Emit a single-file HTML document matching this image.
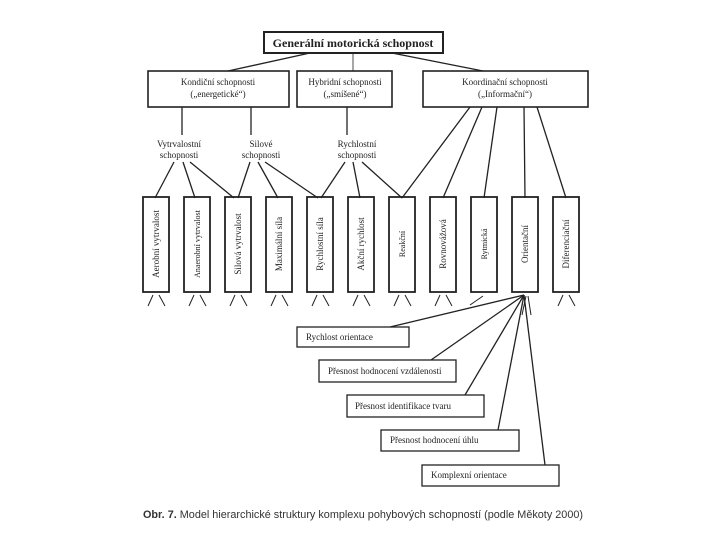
<!DOCTYPE html>
<html><head><meta charset="utf-8"><style>
html,body{margin:0;padding:0;background:#fff;}
svg{display:block;}
text{font-family:"Liberation Serif",serif;fill:#222;}
</style></head><body>
<svg width="720" height="540" viewBox="0 0 720 540" xmlns="http://www.w3.org/2000/svg">
<g fill="none" stroke="#222" stroke-width="1.3">
<rect x="264" y="32" width="179" height="21" stroke-width="2"/>
<rect x="148" y="71" width="141" height="36" stroke-width="1.6"/>
<rect x="297" y="71" width="95" height="36" stroke-width="1.6"/>
<rect x="423" y="71" width="165" height="36" stroke-width="1.6"/>
<line x1="310" y1="53" x2="228" y2="71"/>
<line x1="353" y1="53" x2="353" y2="71" stroke-width="0.8"/>
<line x1="392" y1="53" x2="483" y2="71"/>
<line x1="182" y1="107" x2="182" y2="135"/>
<line x1="251" y1="107" x2="251" y2="135"/>
<line x1="347" y1="107" x2="347" y2="135"/>
<line x1="174" y1="162" x2="155" y2="198"/>
<line x1="183" y1="162" x2="195" y2="198"/>
<line x1="190" y1="162" x2="234" y2="198"/>
<line x1="250" y1="162" x2="238" y2="198"/>
<line x1="258" y1="162" x2="278" y2="198"/>
<line x1="265" y1="162" x2="318" y2="198"/>
<line x1="345" y1="162" x2="321" y2="198"/>
<line x1="353" y1="162" x2="360" y2="198"/>
<line x1="362" y1="162" x2="402" y2="198"/>
<line x1="470" y1="107" x2="402" y2="198"/>
<line x1="482" y1="107" x2="443" y2="198"/>
<line x1="497" y1="107" x2="484" y2="198"/>
<line x1="524" y1="107" x2="525" y2="198"/>
<line x1="537" y1="107" x2="566" y2="198"/>
<line x1="524" y1="295" x2="390" y2="327"/>
<line x1="524" y1="295" x2="431" y2="360"/>
<line x1="524" y1="295" x2="465" y2="395"/>
<line x1="524" y1="295" x2="498" y2="430"/>
<line x1="524" y1="295" x2="545" y2="465"/>
<rect x="297" y="327" width="112" height="20"/>
<rect x="319" y="360" width="137" height="22"/>
<rect x="347" y="395" width="137" height="22"/>
<rect x="381" y="430" width="138" height="21"/>
<rect x="422" y="465" width="137" height="21"/>
</g>
<g fill="none" stroke="#222" stroke-width="1.8">
<rect x="143" y="197" width="26" height="95"/>
<rect x="184" y="197" width="26" height="95"/>
<rect x="225" y="197" width="26" height="95"/>
<rect x="266" y="197" width="26" height="95"/>
<rect x="307" y="197" width="26" height="95"/>
<rect x="348" y="197" width="26" height="95"/>
<rect x="389" y="197" width="26" height="95"/>
<rect x="430" y="197" width="26" height="95"/>
<rect x="471" y="197" width="26" height="95"/>
<rect x="512" y="197" width="26" height="95"/>
<rect x="553" y="197" width="26" height="95"/>
</g>
<g stroke="#222" stroke-width="1">
<path d="M153 295 L148 306 M159 295 L165 306"/>
<path d="M194 295 L189 306 M200 295 L206 306"/>
<path d="M235 295 L230 306 M241 295 L247 306"/>
<path d="M276 295 L271 306 M282 295 L288 306"/>
<path d="M317 295 L312 306 M323 295 L329 306"/>
<path d="M358 295 L353 306 M364 295 L370 306"/>
<path d="M399 295 L394 306 M405 295 L411 306"/>
<path d="M440 295 L435 306 M446 295 L452 306"/>
<path d="M483 296 L470 305"/>
<path d="M563 295 L558 306 M569 295 L575 306"/>
<path d="M526 296 L522 315 M528 296 L531 315"/>
</g>
<text x="353" y="47" font-size="12" font-weight="bold" text-anchor="middle">Generální motorická schopnost</text>
<g font-size="9" text-anchor="middle">
<text x="218" y="85">Kondiční schopnosti</text>
<text x="218" y="97">(„energetické“)</text>
<text x="345" y="85">Hybridní schopnosti</text>
<text x="345" y="97">(„smíšené“)</text>
<text x="505" y="85">Koordinační schopnosti</text>
<text x="505" y="97">(„Informační“)</text>
<text x="179" y="147">Vytrvalostní</text>
<text x="179" y="158">schopnosti</text>
<text x="261" y="147">Silové</text>
<text x="261" y="158">schopnosti</text>
<text x="357" y="147">Rychlostní</text>
<text x="357" y="158">schopnosti</text>
</g>
<g font-size="9" text-anchor="middle">
<text transform="translate(159,244) rotate(-90)">Aerobní  vytrvalost</text>
<text transform="translate(200,244) rotate(-90)" font-size="8">Anaerobní  vytrvalost</text>
<text transform="translate(241,244) rotate(-90)">Silová  vytrvalost</text>
<text transform="translate(282,244) rotate(-90)">Maximální síla</text>
<text transform="translate(323,244) rotate(-90)">Rychlostní síla</text>
<text transform="translate(364,244) rotate(-90)">Akční  rychlost</text>
<text transform="translate(405,244) rotate(-90)" font-size="8">Reakční</text>
<text transform="translate(446,244) rotate(-90)">Rovnovážová</text>
<text transform="translate(487,244) rotate(-90)" font-size="8">Rytmická</text>
<text transform="translate(528,244) rotate(-90)">Orientační</text>
<text transform="translate(569,244) rotate(-90)">Diferenciační</text>
</g>
<g font-size="9">
<text x="306" y="340">Rychlost orientace</text>
<text x="328" y="374">Přesnost hodnocení vzdálenosti</text>
<text x="355" y="409">Přesnost identifikace tvaru</text>
<text x="390" y="443">Přesnost hodnocení úhlu</text>
<text x="431" y="478">Komplexní orientace</text>
</g>
<text x="143" y="518" font-size="11" style="font-family:'Liberation Sans',sans-serif;fill:#333" textLength="440" lengthAdjust="spacingAndGlyphs"><tspan font-weight="bold">Obr. 7.</tspan> Model hierarchické struktury komplexu pohybových schopností (podle Měkoty 2000)</text>
</svg>
</body></html>
